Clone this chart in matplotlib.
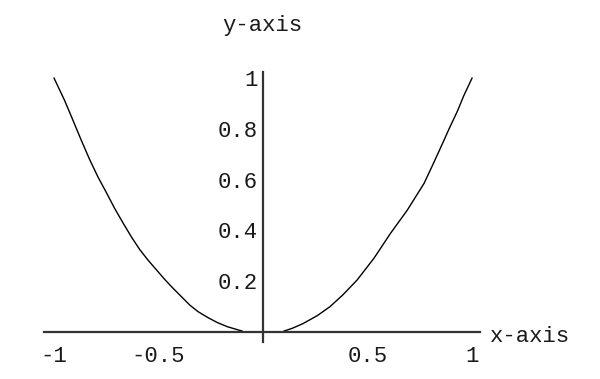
import matplotlib
matplotlib.use('Agg')
import matplotlib.pyplot as plt

# curve points (two branches, gap near the origin)
left_x = [-1.0, -0.95, -0.91, -0.87, -0.83, -0.79, -0.75, -0.71, -0.67, -0.63,
          -0.59, -0.55, -0.51, -0.47, -0.43, -0.39, -0.35, -0.31, -0.27, -0.22,
          -0.17, -0.10]
left_y = [1.0, 0.913, 0.835, 0.756, 0.68, 0.611, 0.55, 0.487, 0.43, 0.375,
          0.325, 0.283, 0.245, 0.207, 0.172, 0.139, 0.106, 0.08, 0.06, 0.038,
          0.021, 0.004]
right_x = [0.10, 0.14, 0.19, 0.26, 0.32, 0.38, 0.45, 0.53, 0.61, 0.69, 0.77,
           0.81, 0.86, 0.89, 0.93, 0.96, 1.0]
right_y = [0.004, 0.015, 0.033, 0.065, 0.10, 0.145, 0.205, 0.29, 0.389, 0.48,
           0.585, 0.655, 0.745, 0.80, 0.87, 0.93, 1.0]

x_ticks = [-1, -0.5, 0.5, 1]
x_labels = ['-1', '-0.5', '0.5', '1']
y_ticks = [0.2, 0.4, 0.6, 0.8, 1]
y_labels = ['0.2', '0.4', '0.6', '0.8', '1']

W, H = 600, 379
fig = plt.figure(figsize=(6, 3.79), dpi=100)
ax = fig.add_axes([44 / W, (H - 342) / H, 436 / W, 270 / H])

font = 'Liberation Mono'
fs = 16
dark = '#1a1a1a'

ax.plot(left_x, left_y, color='black', lw=1.0)
ax.plot(right_x, right_y, color='black', lw=1.0)

ax.set_xlim(-1.048, 1.038)
ax.set_ylim(-0.039, 1.024)

for side in ['top', 'right']:
    ax.spines[side].set_visible(False)
ax.spines['left'].set_position('zero')
ax.spines['bottom'].set_position('zero')
ax.spines['left'].set_color('#333333')
ax.spines['bottom'].set_color('#333333')
ax.spines['left'].set_linewidth(1.6)
ax.spines['bottom'].set_linewidth(1.6)

ax.set_xticks(x_ticks)
ax.set_xticklabels(x_labels, family=font, fontsize=fs, color=dark)
ax.set_yticks(y_ticks)
ax.set_yticklabels(y_labels, family=font, fontsize=fs, color=dark)
ax.tick_params(axis='x', length=0, pad=10)
ax.tick_params(axis='y', length=0, pad=4)

fig.text(262 / W, 1 - 25 / H, 'y-axis', family=font, fontsize=fs, color=dark,
         ha='center', va='center')
fig.text(490 / W, 1 - 337 / H, 'x-axis', family=font, fontsize=fs, color=dark,
         ha='left', va='center')

fig.savefig('out.png', dpi=100, facecolor='white')
